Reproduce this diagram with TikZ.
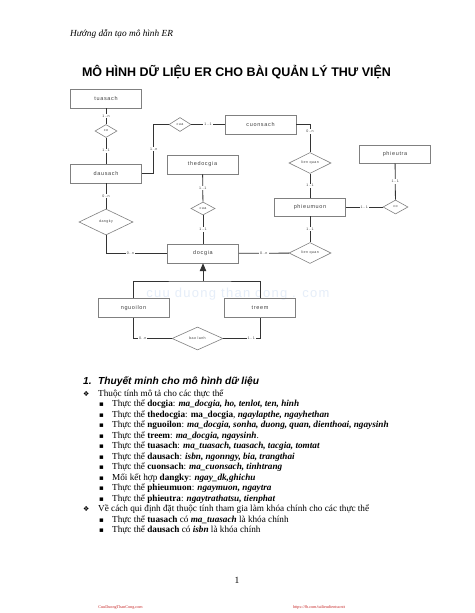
\documentclass[tikz,border=0pt]{standalone}
\usepackage{fontspec}
\setmainfont{Liberation Serif}
\setsansfont{Liberation Sans}
\newfontfamily\erfont[LetterSpace=12]{Liberation Sans}
\newfontfamily\wmfont[LetterSpace=10]{Liberation Sans}
\newfontfamily\kyhieu{DejaVu Sans}
\usetikzlibrary{arrows,shapes.geometric}
\definecolor{filigrane}{RGB}{230,238,249}
\definecolor{chanpage}{RGB}{200,40,40}

\begin{document}
\begin{tikzpicture}[x=1pt, y=-1pt,
    thucthe/.style={draw=black!50, line width=0.6pt, minimum width=71pt, minimum height=19pt, inner sep=0pt, text=black!75, font=\erfont\fontsize{5.5}{6}\selectfont},
    ketthop/.style={diamond, draw=black!50, line width=0.6pt, inner sep=0pt, text=black!75, font=\erfont\fontsize{3.6}{4}\selectfont},
    lien/.style={draw=black!80, line width=0.8pt},
    soluong/.style={fill=white, inner sep=1pt, text=black!75, font=\erfont\fontsize{3.6}{4}\selectfont},
    dong/.style={anchor=base west, inner sep=0pt, font=\fontsize{9.2}{11}\selectfont}]
    \useasboundingbox[fill=white] (0,0) rectangle (474,613);
    % Entete
    \node[anchor=base west, inner sep=0pt, font=\itshape\fontsize{9.3}{10}\selectfont] at (70,36) (entete) {Hướng dẫn tạo mô hình ER};
    \node[font=\sffamily\bfseries\fontsize{12.5}{14}\selectfont] at (236.5,72) (titre) {MÔ HÌNH DỮ LIỆU ER CHO BÀI QUẢN LÝ THƯ VIỆN};
    \node[text=filigrane, font=\wmfont\fontsize{13}{13}\selectfont] at (238,294) (filigrane) {cuu duong than cong . com};
    % Thuc the
    \node[thucthe] at (106,98.5) (tuasach) {tuasach};
    \node[thucthe] at (106,173.5) (dausach) {dausach};
    \node[thucthe] at (260.5,124.5) (cuonsach) {cuonsach};
    \node[thucthe, minimum height=18pt] at (310,207) (phieumuon) {phieumuon};
    \node[thucthe, minimum height=18pt] at (395,154) (phieutra) {phieutra};
    \node[thucthe] at (202.5,164.5) (thedocgia) {thedocgia};
    \node[thucthe] at (203,253.5) (docgia) {docgia};
    \node[thucthe] at (133.5,308) (nguoilon) {nguoilon};
    \node[thucthe] at (260,308) (treem) {treem};
    % Ket hop
    \node[ketthop, minimum width=22pt, minimum height=13pt] at (106,131) (co1) {co};
    \node[ketthop, minimum width=22pt, minimum height=14pt] at (180,124.5) (cua1) {cua};
    \node[ketthop, minimum width=42pt, minimum height=20pt] at (310,163) (lienquan1) {lien quan};
    \node[ketthop, minimum width=25pt, minimum height=14pt] at (395.5,207) (co2) {co};
    \node[ketthop, minimum width=42pt, minimum height=20pt] at (310,253) (lienquan2) {lien quan};
    \node[ketthop, minimum width=24pt, minimum height=13pt] at (203,208.5) (cua2) {cua};
    \node[ketthop, minimum width=54pt, minimum height=26pt] at (106,222) (dangky) {dangky};
    \node[ketthop, minimum width=51pt, minimum height=23pt] at (197.5,338.5) (baolanh) {bao lanh};
    % Lien ket
    \draw[lien] (tuasach) -- node[soluong]{1..n} (co1);
    \draw[lien] (co1) -- node[soluong]{1..1} (dausach);
    \draw[lien] (dausach.east) -- ++(12,0) |- node[soluong, pos=0.25]{1..n} (cua1.west);
    \draw[lien] (cua1) -- node[soluong]{1..1} (cuonsach);
    \draw[lien] (cuonsach.east) -| node[soluong, pos=0.63]{0..n} (lienquan1.north);
    \draw[lien] (lienquan1) -- node[soluong]{1..1} (phieumuon);
    \draw[lien] (phieumuon) -- node[soluong]{1..1} (co2);
    \draw[lien] (co2) -- node[soluong]{1..1} (phieutra);
    \draw[lien] (phieumuon) -- node[soluong]{1..1} (lienquan2);
    \draw[lien] (lienquan2) -- node[soluong]{0..n} (docgia);
    \draw[lien] (thedocgia) -- node[soluong]{1..1} (cua2);
    \draw[lien] (cua2) -- node[soluong]{1..1} (docgia);
    \draw[lien] (dausach) -- node[soluong]{0..n} (dangky);
    \draw[lien] (dangky.south) |- node[soluong, pos=0.7]{0..n} (docgia.west);
    \coordinate (isa) at (203,281);
    \draw[lien] (nguoilon.north) |- (isa) -| (treem.north);
    \draw[lien, -triangle 45] (isa) -- (docgia.south);
    \draw[lien] (nguoilon.south) |- node[soluong, pos=0.62]{0..n} (baolanh.west);
    \draw[lien] (baolanh.east) -| node[soluong, pos=0.38]{1..1} (treem.south);
    % Thuyet minh
    \node[anchor=base west, inner sep=0pt, font=\sffamily\bfseries\itshape\fontsize{10.2}{12}\selectfont] at (83,384) (muc) {1.\hspace{6.5pt}Thuyết minh cho mô hình dữ liệu};
    \node[dong, font=\kyhieu\fontsize{7}{8}\selectfont] at (83,396) (thoi1) {❖};
    \node[dong] at (98,396) (y1) {Thuộc tính mô tả cho các thực thể};
    \foreach \y/\ligne [count=\i] in {
        406.5/{Thực thể \textbf{docgia}: \textbf{\textit{ma\_docgia, ho, tenlot, ten, hinh}}},
        417/{Thực thể \textbf{thedocgia}: \textbf{ma\_docgia}, \textbf{\textit{ngaylapthe, ngayhethan}}},
        427.5/{Thực thể \textbf{nguoilon}: \textbf{\textit{ma\_docgia, sonha, duong, quan, dienthoai, ngaysinh}}},
        438/{Thực thể \textbf{treem}: \textbf{\textit{ma\_docgia, ngaysinh}}.},
        448.5/{Thực thể \textbf{tuasach}: \textbf{\textit{ma\_tuasach, tuasach, tacgia, tomtat}}},
        459/{Thực thể \textbf{dausach}: \textbf{\textit{isbn, ngonngy, bia, trangthai}}},
        469.5/{Thực thể \textbf{cuonsach}: \textbf{\textit{ma\_cuonsach, tinhtrang}}},
        480/{Mối kết hợp \textbf{dangky}: \textbf{\textit{ngay\_dk,ghichu}}},
        490.5/{Thực thể \textbf{phieumuon}: \textbf{\textit{ngaymuon, ngaytra}}},
        501/{Thực thể \textbf{phieutra}: \textbf{\textit{ngaytrathatsu, tienphat}}}} {
      \node[dong, font=\kyhieu\fontsize{7}{8}\selectfont] at (99,\y) (cham\i) {▪};
      \node[dong] at (112,\y) (ligne\i) {\ligne};
    }
    \node[dong, font=\kyhieu\fontsize{7}{8}\selectfont] at (83,511.5) (thoi2) {❖};
    \node[dong] at (98,511.5) (y2) {Về cách qui định đặt thuộc tính tham gia làm khóa chính cho các thực thể};
    \node[dong, font=\kyhieu\fontsize{7}{8}\selectfont] at (99,522) (cham11) {▪};
    \node[dong] at (112,522) (khoa1) {Thực thể \textbf{tuasach} có \textbf{\textit{ma\_tuasach}} là khóa chính};
    \node[dong, font=\kyhieu\fontsize{7}{8}\selectfont] at (99,532.5) (cham12) {▪};
    \node[dong] at (112,532.5) (khoa2) {Thực thể \textbf{dausach} có \textbf{\textit{isbn}} là khóa chính};
    % Chan trang
    \node[font=\fontsize{9.5}{11}\selectfont] at (237,580) (trang) {1};
    \node[text=chanpage, font=\fontsize{4.2}{5}\selectfont] at (120.5,607) (chan1) {CuuDuongThanCong.com};
    \node[text=chanpage, font=\fontsize{4.2}{5}\selectfont] at (319,607) (chan2) {https://fb.com/tailieudientucntt};
\end{tikzpicture}
\end{document}
